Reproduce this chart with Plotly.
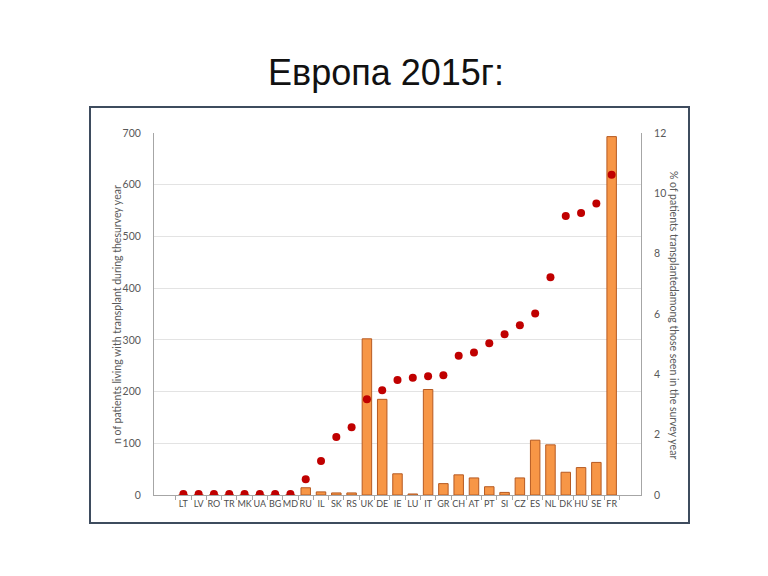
import plotly.graph_objects as go

countries = ["LT", "LV", "RO", "TR", "MK", "UA", "BG", "MD", "RU", "IL", "SK", "RS", "UK", "DE", "IE",
             "LU", "IT", "GR", "CH", "AT", "PT", "SI", "CZ", "ES", "NL", "DK", "HU", "SE", "FR"]
n_transplant = [0, 0, 0, 0, 0, 0, 0, 0, 14, 6, 4, 4, 302, 185, 41,
                2, 204, 22, 39, 33, 16, 5, 33, 106, 97, 44, 53, 63, 693]
pct_transplant = [0.03, 0.03, 0.03, 0.03, 0.03, 0.03, 0.03, 0.03, 0.52, 1.13, 1.92, 2.25, 3.17, 3.47, 3.81,
                  3.89, 3.94, 3.97, 4.62, 4.72, 5.03, 5.33, 5.63, 6.02, 7.22, 9.25, 9.35, 9.66, 10.62]
left_ticks = [0, 100, 200, 300, 400, 500, 600, 700]
right_ticks = [0, 2, 4, 6, 8, 10, 12]

font = "Lato"
grey = "#595959"

# page offset caused by the default 8px body margin
OFF = 8
FW, FH = 768 - OFF, 576 - OFF
L, R, T, B = 154 - OFF, 641 - OFF, 133 - OFF, 495 - OFF
W, H = R - L, B - T


def px(x):
    return (x - OFF - L) / W


def py(y):
    return (B - (y - OFF)) / H


fig = go.Figure()
fig.add_trace(go.Bar(
    x=countries, y=n_transplant,
    marker=dict(color="#F79646", line=dict(color="#B65A22", width=1)),
    yaxis="y", showlegend=False,
))
fig.add_trace(go.Scatter(
    x=countries, y=pct_transplant, mode="markers",
    marker=dict(color="#C00000", size=8),
    yaxis="y2", showlegend=False,
))

fig.update_layout(
    width=FW, height=FH,
    paper_bgcolor="white", plot_bgcolor="white",
    margin=dict(l=L, r=FW - R, t=T, b=FH - B),
    bargap=0.38,
    font=dict(family=font, color=grey, size=10),
    xaxis=dict(
        type="category", showline=True, linecolor="#A6A6A6", linewidth=1,
        ticks="outside", ticklen=4, tickcolor="#A6A6A6", tickson="boundaries",
        tickangle=0, automargin=False,
        tickfont=dict(size=9, color="#4d4d4d"), showgrid=False,
    ),
    yaxis=dict(
        range=[0, 700], tickvals=left_ticks, showline=True, linecolor="#A6A6A6",
        linewidth=1, gridcolor="#E3E3E3", zeroline=False, automargin=False,
        tickfont=dict(size=10.5, color=grey), ticks="", ticklabelstandoff=10,
    ),
    yaxis2=dict(
        range=[0, 12], tickvals=right_ticks, overlaying="y", side="right",
        showline=True, linecolor="#A6A6A6", linewidth=1, showgrid=False, zeroline=False,
        automargin=False,
        tickfont=dict(size=10.5, color=grey), ticks="", ticklabelstandoff=10,
    ),
    shapes=[dict(type="rect", xref="paper", yref="paper",
                 x0=px(90), x1=px(689), y0=py(523), y1=py(107),
                 line=dict(color="#3E4C5E", width=2), layer="below")],
    annotations=[
        dict(text="Европа 2015г:", xref="paper", yref="paper",
             x=px(386), y=py(72), xanchor="center", yanchor="middle",
             showarrow=False, font=dict(family="Liberation Sans", size=36, color="#111111")),
        dict(text="n of patients living with transplant during thesurvey year",
             xref="paper", yref="paper", x=px(117), y=py(315), xanchor="center", yanchor="middle",
             textangle=-90, showarrow=False, font=dict(size=10.5, color=grey)),
        dict(text="% of patients transplantedamong those seen in the survey year",
             xref="paper", yref="paper", x=px(674), y=py(315), xanchor="center", yanchor="middle",
             textangle=90, showarrow=False, font=dict(size=10.5, color=grey)),
    ],
)

fig.write_html("out.html")
